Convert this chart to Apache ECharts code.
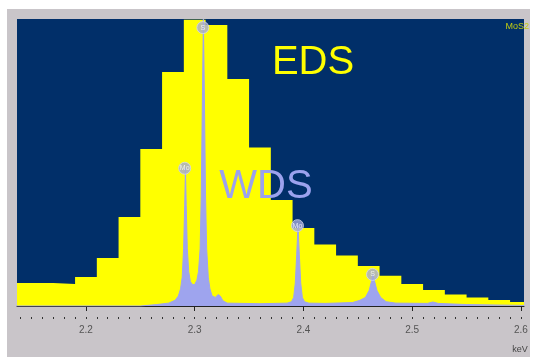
<!DOCTYPE html>
<html>
<head>
<meta charset="utf-8">
<script src="https://cdn.jsdelivr.net/npm/echarts@6.0.0/dist/echarts.min.js"></script>
<style>
    body { margin: 0; background: #fff; }
    .wrap { position: relative; width: 533px; height: 358px; }
    .frame { position: absolute; left: 7px; top: 9px; width: 523px; height: 348px; background: #c9c5c9; }
    .item-chart { position: absolute; left: 0; top: 0; width: 533px; height: 358px; }
</style>
</head>
<body>
<div class="wrap">
    <div class="frame"></div>
    <div id="chart" class="item-chart"></div>
</div>
<script>
// EDS histogram: left bin edges (keV) and counts (relative, 0-100)
const edsEdges = [2.13, 2.15, 2.17, 2.19, 2.21, 2.23, 2.25, 2.27, 2.29, 2.31, 2.33, 2.35,
    2.37, 2.39, 2.41, 2.43, 2.45, 2.47, 2.49, 2.51, 2.53, 2.55, 2.57, 2.59];
const edsCounts = [8.0, 8.0, 7.7, 10.1, 16.7, 31.0, 54.7, 81.5, 99.7, 97.9, 79.1, 55.2,
    36.9, 27.2, 21.4, 17.6, 13.9, 10.5, 7.7, 5.6, 4.0, 3.0, 2.1, 1.4];
const edsLastEdge = 2.61;

// WDS spectrum
const wdsKeV = [2.136, 2.25, 2.265, 2.276, 2.282, 2.285, 2.287, 2.2885, 2.2898, 2.2908, 2.2915, 2.2922,
    2.2932, 2.2945, 2.296, 2.298, 2.300, 2.302, 2.3035, 2.305, 2.306, 2.307, 2.308, 2.309, 2.310, 2.311,
    2.3125, 2.314, 2.316, 2.319, 2.3215, 2.3235, 2.326, 2.33, 2.36, 2.385, 2.389, 2.391, 2.3925, 2.3938,
    2.395, 2.3962, 2.3975, 2.399, 2.401, 2.405, 2.42, 2.445, 2.452, 2.457, 2.4605, 2.4625, 2.464, 2.4655,
    2.4675, 2.471, 2.476, 2.485, 2.514, 2.519, 2.524, 2.55, 2.603];
const wdsVal = [0, 0, 0.5, 1, 2, 3.5, 6, 10, 20, 35, 48, 35,
    20, 12, 8.5, 7.5, 7.5, 9, 12, 20, 38, 70, 100, 70, 38, 20,
    10, 6, 3.5, 3, 4, 3.5, 1.8, 1, 0.8, 1, 1.5, 3, 8, 18,
    28, 18, 8, 3, 1.5, 1, 0.9, 1.2, 2, 3, 5.5, 8.5, 11, 8.5,
    5.5, 3, 1.5, 1, 0.9, 1.4, 0.9, 0.5, 0.2];

// peak labels
const peakNames = ['Mo', 'S', 'Mo', 'S'];
const peakKeV = [2.2908, 2.3075, 2.3945, 2.4635];
const peakVal = [48, 97, 28, 11];

const tickLabels = [2.2, 2.3, 2.4, 2.5, 2.6];
const xMin = 2.1366;
const xMax = 2.6028;

const font = 'Liberation Sans, Arial, sans-serif';

let edsData = edsEdges.map((e, i) => [e, edsCounts[i]]);
edsData.push([edsLastEdge, edsCounts[edsCounts.length - 1]]);
let wdsData = wdsKeV.map((k, i) => [k, wdsVal[i]]);
let peakData = peakKeV.map((k, i) => ({ name: peakNames[i], value: [k, peakVal[i]] }));

// minor ticks every 0.01
let minorTicks = [];
for (let i = 214; i <= 260; i++) minorTicks.push(i / 100);

let myChart = null;
let option = {
    animation: false,
    backgroundColor: 'transparent',
    grid: {
        show: true,
        left: 17,
        right: 9,
        top: 19,
        bottom: 52,
        backgroundColor: '#012f69',
        borderWidth: 0,
    },
    xAxis: [{
        type: 'value',
        min: xMin,
        max: xMax,
        position: 'bottom',
        offset: 11,
        splitLine: { show: false },
        axisLine: { lineStyle: { color: '#222', width: 1 } },
        axisTick: {
            customValues: tickLabels,
            length: 5,
            lineStyle: { color: '#222' },
        },
        axisLabel: {
            customValues: tickLabels,
            color: '#555',
            fontSize: 10,
            fontFamily: font,
            margin: 8,
            formatter: (v) => String(Math.round(v * 10) / 10),
        },
    }, {
        type: 'value',
        min: xMin,
        max: xMax,
        position: 'bottom',
        offset: 11,
        splitLine: { show: false },
        axisLine: { show: false },
        axisLabel: { show: false },
        axisTick: {
            customValues: minorTicks,
            length: 2,
            lineStyle: { color: '#333' },
        },
    }],
    yAxis: {
        type: 'value',
        min: 0,
        max: 100,
        show: false,
    },
    graphic: [
        { type: 'text', z: 100, x: 313, y: 63, style: { text: 'EDS', fill: '#ffff00', font: '40px ' + font, textAlign: 'center', textVerticalAlign: 'middle' } },
        { type: 'text', z: 100, x: 266, y: 187, style: { text: 'WDS', fill: '#9ca2ee', font: '40px ' + font, textAlign: 'center', textVerticalAlign: 'middle' } },
        { type: 'text', z: 100, x: 529, y: 27, style: { text: 'MoS2', fill: '#c2cc10', font: '9px ' + font, textAlign: 'right', textVerticalAlign: 'middle' } },
        { type: 'text', z: 100, x: 520, y: 350, style: { text: 'keV', fill: '#444', font: '9px ' + font, textAlign: 'center', textVerticalAlign: 'middle' } },
    ],
    series: [{
        name: 'EDS',
        type: 'line',
        step: 'end',
        data: edsData,
        symbol: 'none',
        lineStyle: { width: 0 },
        areaStyle: { color: '#ffff00', opacity: 1 },
        itemStyle: { color: '#ffff00' },
        z: 2,
    }, {
        name: 'WDS',
        type: 'line',
        data: wdsData,
        symbol: 'none',
        lineStyle: { width: 1, color: '#9ea4ee' },
        areaStyle: { color: '#9ea4ee', opacity: 1 },
        itemStyle: { color: '#9ea4ee' },
        z: 3,
    }, {
        name: 'peaks',
        type: 'scatter',
        data: peakData,
        symbol: 'circle',
        symbolSize: 12,
        itemStyle: { color: '#a4a9d9', borderColor: '#d6d8ec', borderWidth: 1 },
        label: {
            show: true,
            position: 'inside',
            formatter: '{b}',
            color: '#fff',
            fontSize: 7,
            fontFamily: font,
        },
        z: 4,
    }]
};

const init = () => {
    myChart = echarts.init(document.getElementById('chart'));
    myChart.setOption(option);
};
init();
</script>
</body>
</html>
